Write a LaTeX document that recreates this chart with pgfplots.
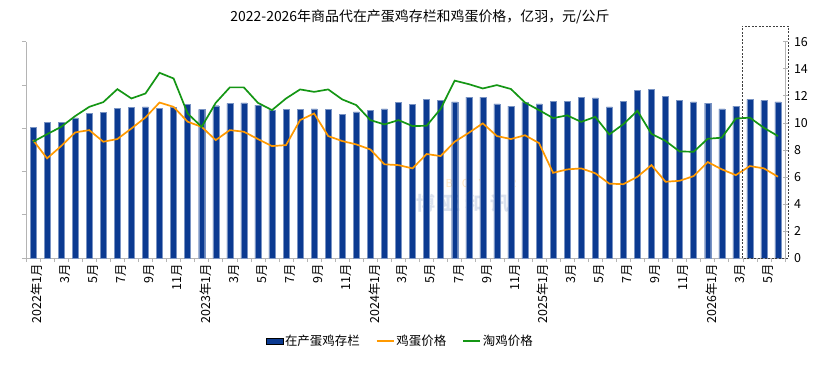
\documentclass[border=0pt]{standalone}
\usepackage{fontspec}
\setmainfont{Noto Sans CJK SC}
\usepackage{pgfplots}
\usepackage{pgfplotstable}
\pgfplotsset{compat=1.18}
\definecolor{barblue}{RGB}{11,58,145}
\definecolor{eggorange}{RGB}{255,153,0}
\definecolor{hengreen}{RGB}{20,150,20}
\definecolor{axgray}{RGB}{180,180,180}

\pgfplotstableread{
x stock egg hen
0 12.08 8.72 8.60
1 12.55 7.37 9.16
2 12.55 8.28 9.70
3 12.96 9.29 10.50
4 13.36 9.46 11.18
5 13.49 8.60 11.53
6 13.86 8.80 12.49
7 13.93 9.58 11.80
8 13.98 10.40 12.17
9 13.83 11.50 13.70
10 13.95 11.18 13.28
11 14.20 10.08 10.69
12 13.74 9.70 9.70
13 14.08 8.72 11.48
14 14.29 9.46 12.62
15 14.35 9.34 12.62
16 14.14 8.80 11.48
17 13.68 8.28 10.94
18 13.74 8.35 11.80
19 13.74 10.20 12.47
20 13.79 10.69 12.29
21 13.74 9.02 12.47
22 13.28 8.65 11.73
23 13.51 8.40 11.31
24 13.68 8.03 10.20
25 13.79 6.93 9.88
26 14.38 6.87 10.20
27 14.21 6.63 9.76
28 14.65 7.69 9.78
29 14.56 7.54 11.03
30 14.44 8.60 13.12
31 14.88 9.26 12.86
32 14.88 9.96 12.54
33 14.25 9.02 12.79
34 14.04 8.80 12.50
35 14.40 9.08 11.50
36 14.24 8.50 10.94
37 14.50 6.30 10.35
38 14.50 6.55 10.55
39 14.88 6.63 10.07
40 14.81 6.27 10.44
41 13.98 5.50 9.14
42 14.50 5.46 9.90
43 15.48 6.01 10.89
44 15.59 6.87 9.18
45 14.96 5.64 8.66
46 14.58 5.71 7.88
47 14.43 6.06 7.86
48 14.31 7.10 8.82
49 13.79 6.56 8.90
50 14.04 6.13 10.32
51 14.66 6.80 10.38
52 14.58 6.63 9.63
53 14.44 6.01 9.02
}\data

\begin{document}
\begin{tikzpicture}
\useasboundingbox (-26bp,-117bp) rectangle (799bp,258bp);
% faint watermark
\node[font=\fontsize{11}{12}\selectfont, text=eggorange!25] at (455bp,75bp) {B\hspace{9bp}O\hspace{9bp}Y\hspace{9bp}A\hspace{9bp}R};
\node[font=\fontsize{19}{20}\selectfont\bfseries, text=barblue!15] at (437bp,55bp) {博\hspace{6bp}亚\hspace{6bp}和\hspace{6bp}讯};
\begin{axis}[
  at={(0,0)}, anchor=south west,
  scale only axis, width=759bp, height=216.3bp,
  xmin=-0.5, xmax=53.5, ymin=0, ymax=20,
  axis x line*=bottom, axis y line*=left,
  axis line style={draw=axgray, line width=0.8pt},
  every tick/.style={draw=axgray, line width=0.6pt},
  tick align=outside,
  major tick length=4bp, minor tick length=4bp,
  ytick={0,4,...,20}, yticklabels={},
  xtick={0,2,...,52},
  major x tick style={draw=none},
  minor xtick={-0.5,0.5,...,53.5},
  xticklabels={2022年1月,3月,5月,7月,9月,11月,2023年1月,3月,5月,7月,9月,11月,2024年1月,3月,5月,7月,9月,11月,2025年1月,3月,5月,7月,9月,11月,2026年1月,3月,5月},
  xticklabel style={rotate=90, anchor=east, font=\fontsize{12.5}{14}\selectfont, text=black, xshift=1.5bp, yshift=-4bp},
]
\addplot[ybar, bar width=6bp, fill=barblue, draw=barblue!55!white, line width=0.3pt] table[x=x,y=stock]{\data};
\end{axis}
\begin{axis}[
  at={(0,0)}, anchor=south west,
  scale only axis, width=759bp, height=216.3bp,
  xmin=-0.5, xmax=53.5, ymin=0, ymax=16,
  axis x line=none, axis y line*=right,
  axis line style={draw=axgray, line width=0.8pt},
  every tick/.style={draw=axgray, line width=0.6pt},
  tick align=center, major tick length=5bp,
  ytick={0,2,...,16},
  yticklabel style={font=\fontsize{12.5}{14}\selectfont, text=black, xshift=3bp},
  /pgf/number format/assume math mode=true,
  clip=false,
  legend style={at={(0.493,-0.384)}, anchor=center, draw=none, fill=none,
    font=\fontsize{12.5}{14}\selectfont, legend columns=3,
    /tikz/every even column/.append style={column sep=14bp}},
  legend cell align=left,
]
\addlegendimage{area legend, fill=barblue, draw=none}
\addlegendentry{在产蛋鸡存栏}
\addplot[color=eggorange, line width=1.7pt] table[x=x,y=egg]{\data};
\addlegendentry{鸡蛋价格}
\addplot[color=hengreen, line width=1.7pt] table[x=x,y=hen]{\data};
\addlegendentry{淘鸡价格}
\draw[dash pattern=on 2bp off 1.5bp, black!75, line width=0.7pt] (axis cs:50.45,0) rectangle (axis cs:53.75,17.15);
\end{axis}
\node[font=\fontsize{14}{16}\selectfont] at (394bp,241bp) {2022-2026年商品代在产蛋鸡存栏和鸡蛋价格，亿羽，元/公斤};
\end{tikzpicture}
\end{document}
